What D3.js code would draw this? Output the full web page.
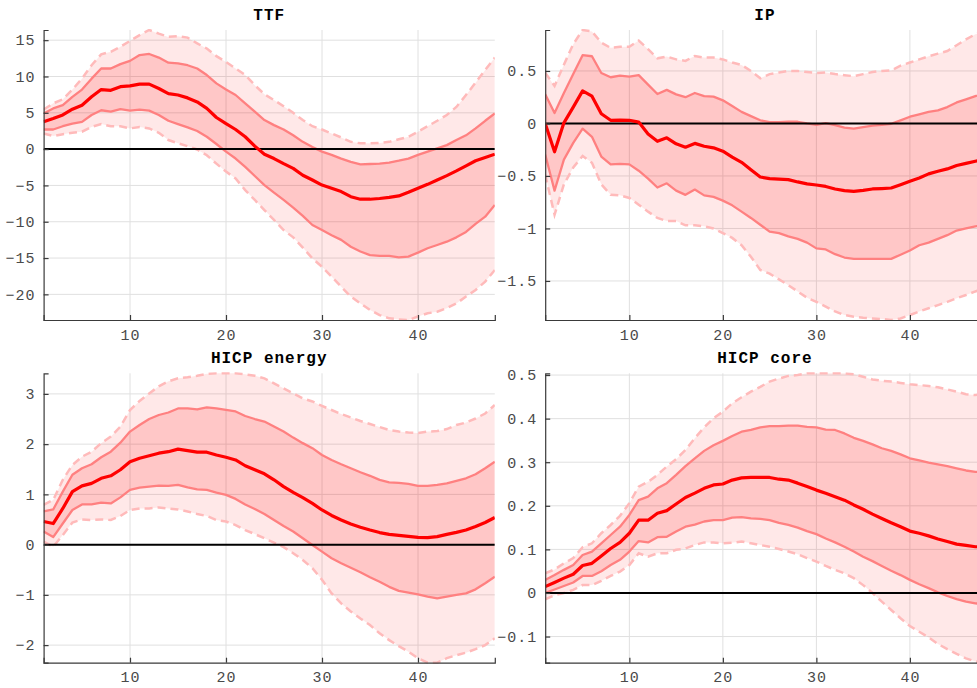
<!DOCTYPE html>
<html>
<head>
<meta charset="utf-8">
<script src="https://cdn.jsdelivr.net/npm/d3@7"></script>
<style>
  html, body { margin: 0; padding: 0; background: #fff; overflow: hidden; }
  svg { display: block; }
</style>
</head>
<body>
<svg id="chart" width="977" height="688"></svg>
<script>
// Impulse responses over a 48-month horizon: median with 68% and 90% bands.
const horizon = [1,2,3,4,5,6,7,8,9,10,11,12,13,14,15,16,17,18,19,20,21,22,23,24,
                 25,26,27,28,29,30,31,32,33,34,35,36,37,38,39,40,41,42,43,44,45,46,47,48];
const xTicks = [10, 20, 30, 40];

// --- TTF ---
const ttfMean = [3.76,4.2,4.7,5.5,6.05,7.2,8.2,8.1,8.6,8.7,8.95,8.95,8.35,7.65,7.45,7.05,6.5,5.6,4.35,3.5,2.7,1.7,0.4,-0.7,
  -1.3,-2.0,-2.65,-3.6,-4.25,-4.95,-5.4,-5.85,-6.55,-6.9,-6.9,-6.8,-6.65,-6.45,-5.95,-5.4,-4.85,-4.25,-3.65,-3.0,-2.3,-1.6,-1.15,-0.7];
const ttfInnerHi = [4.9,5.6,6.05,7.2,8.2,9.7,11.1,11.1,11.7,12.15,12.95,13.1,12.6,11.9,11.8,11.55,11.1,10.2,9.05,8.2,7.45,6.3,5.15,4.0,
  3.3,2.7,1.9,1.0,0.3,-0.35,-0.8,-1.3,-1.75,-2.1,-2.05,-2.0,-1.85,-1.6,-1.3,-0.8,-0.35,0.1,0.55,1.25,1.9,2.85,3.9,4.9];
const ttfInnerLo = [2.7,2.7,3.15,3.5,3.75,4.7,5.35,5.15,5.5,5.3,5.45,5.3,4.7,3.9,3.45,3.0,2.5,1.7,0.7,-0.35,-1.3,-2.45,-3.7,-4.95,
  -6.0,-7.0,-8.05,-9.2,-10.45,-11.15,-11.85,-12.5,-13.45,-14.1,-14.6,-14.7,-14.7,-14.9,-14.8,-14.25,-13.65,-13.2,-12.75,-12.15,-11.4,-10.3,-9.3,-7.7];
const ttfOuterHi = [5.45,6.3,6.85,8.2,9.7,11.55,13.05,13.4,14.1,14.9,15.7,16.4,15.9,15.45,15.55,15.35,14.55,13.85,12.8,12.0,11.1,10.2,8.8,7.55,
  6.75,5.9,5.0,4.0,3.15,2.7,2.15,1.6,1.0,0.8,0.8,0.85,1.0,1.35,1.7,2.4,3.15,3.9,4.7,5.8,7.45,9.15,10.9,12.6];
const ttfOuterLo = [2.15,1.8,2.05,2.25,2.4,3.05,3.45,3.15,3.15,2.85,3.05,2.85,2.25,1.25,0.8,0.4,-0.05,-0.85,-2.0,-3.1,-4.05,-5.65,-7.0,-8.4,
  -9.75,-11.15,-12.15,-13.55,-15.05,-16.2,-17.55,-18.95,-20.3,-21.25,-22.15,-22.85,-23.3,-23.45,-23.53,-23.05,-22.6,-22.4,-21.9,-21.25,-20.3,-19.4,-18.25,-16.65];
const ttfTicks = [-20, -15, -10, -5, 0, 5, 10, 15];

// --- IP ---
const ipMean = [0,-0.27,0.006,0.156,0.31,0.26,0.092,0.03,0.032,0.03,0.013,-0.1,-0.17,-0.137,-0.194,-0.226,-0.19,-0.217,-0.232,-0.264,-0.32,-0.37,-0.44,-0.51,
  -0.525,-0.53,-0.535,-0.557,-0.576,-0.586,-0.6,-0.624,-0.64,-0.647,-0.637,-0.624,-0.62,-0.615,-0.583,-0.55,-0.52,-0.48,-0.455,-0.433,-0.4,-0.38,-0.36,-0.34];
const ipInnerHi = [0.277,0.1,0.29,0.47,0.65,0.64,0.48,0.44,0.455,0.445,0.46,0.37,0.28,0.32,0.277,0.25,0.29,0.26,0.255,0.22,0.166,0.11,0.07,0.03,
  0.013,0.013,0.016,0.016,0,-0.013,0.003,-0.016,-0.04,-0.05,-0.035,-0.02,-0.013,-0.003,0.03,0.064,0.086,0.11,0.124,0.156,0.2,0.23,0.26,0.29];
const ipInnerLo = [-0.296,-0.64,-0.344,-0.185,-0.05,-0.127,-0.315,-0.39,-0.385,-0.39,-0.45,-0.525,-0.61,-0.57,-0.64,-0.68,-0.63,-0.685,-0.7,-0.735,-0.78,-0.84,-0.9,-0.965,
  -1.03,-1.045,-1.075,-1.1,-1.135,-1.19,-1.2,-1.245,-1.277,-1.29,-1.29,-1.29,-1.29,-1.29,-1.25,-1.21,-1.16,-1.135,-1.1,-1.064,-1.02,-1.0,-0.98,-0.965];
const ipOuterHi = [0.484,0.357,0.56,0.755,0.89,0.876,0.77,0.72,0.73,0.73,0.79,0.707,0.62,0.637,0.61,0.596,0.643,0.627,0.627,0.61,0.58,0.557,0.5,0.43,
  0.47,0.485,0.5,0.5,0.49,0.48,0.485,0.47,0.46,0.45,0.47,0.49,0.5,0.505,0.55,0.58,0.61,0.64,0.665,0.69,0.745,0.8,0.85,0.88];
const ipOuterLo = [-0.487,-0.87,-0.58,-0.42,-0.31,-0.375,-0.58,-0.68,-0.685,-0.71,-0.774,-0.84,-0.9,-0.93,-0.93,-0.97,-0.97,-0.98,-1.0,-1.045,-1.09,-1.16,-1.27,-1.395,
  -1.43,-1.485,-1.54,-1.6,-1.66,-1.7,-1.745,-1.79,-1.825,-1.84,-1.85,-1.857,-1.863,-1.872,-1.857,-1.825,-1.79,-1.76,-1.73,-1.7,-1.665,-1.634,-1.6,-1.57];
const ipTicks = [-1.5, -1, -0.5, 0, 0.5];

// --- HICP energy ---
const energyMean = [0.46,0.42,0.72,1.055,1.17,1.22,1.32,1.37,1.49,1.65,1.72,1.77,1.82,1.85,1.9,1.87,1.84,1.84,1.785,1.74,1.685,1.57,1.49,1.41,
  1.29,1.155,1.04,0.935,0.82,0.69,0.58,0.49,0.41,0.345,0.29,0.24,0.205,0.185,0.165,0.145,0.14,0.16,0.205,0.245,0.29,0.36,0.44,0.54];
const energyInnerHi = [0.66,0.7,1.055,1.39,1.52,1.6,1.74,1.85,2.03,2.25,2.38,2.5,2.58,2.63,2.71,2.71,2.69,2.73,2.71,2.68,2.65,2.56,2.5,2.45,
  2.35,2.25,2.13,2.02,1.92,1.785,1.685,1.6,1.52,1.44,1.37,1.29,1.24,1.23,1.21,1.17,1.17,1.19,1.22,1.27,1.32,1.4,1.52,1.65];
const energyInnerLo = [0.26,0.15,0.42,0.69,0.8,0.8,0.835,0.82,0.94,1.09,1.135,1.155,1.175,1.17,1.19,1.14,1.1,1.09,1.035,0.99,0.91,0.8,0.71,0.61,
  0.49,0.37,0.26,0.126,-0.007,-0.14,-0.27,-0.37,-0.46,-0.55,-0.65,-0.74,-0.84,-0.92,-0.955,-0.99,-1.035,-1.07,-1.035,-1.0,-0.97,-0.89,-0.77,-0.64];
const energyOuterHi = [0.79,0.89,1.29,1.585,1.75,1.85,2.02,2.15,2.35,2.68,2.86,3.01,3.15,3.25,3.31,3.33,3.36,3.4,3.41,3.41,3.41,3.39,3.36,3.31,
  3.21,3.11,3.01,2.91,2.85,2.76,2.68,2.6,2.53,2.46,2.4,2.34,2.28,2.25,2.23,2.22,2.25,2.26,2.3,2.38,2.43,2.51,2.61,2.78];
const energyOuterLo = [0.06,-0.04,0.19,0.44,0.5,0.49,0.5,0.49,0.57,0.69,0.72,0.72,0.74,0.72,0.7,0.66,0.61,0.57,0.49,0.46,0.39,0.29,0.21,0.126,
  0.04,-0.05,-0.17,-0.305,-0.47,-0.7,-0.97,-1.17,-1.33,-1.47,-1.6,-1.765,-1.9,-2.02,-2.13,-2.26,-2.35,-2.35,-2.26,-2.2,-2.15,-2.08,-2.0,-1.865];
const energyTicks = [-2, -1, 0, 1, 2, 3];

// --- HICP core ---
const coreMean = [0.0145,0.024,0.034,0.043,0.063,0.068,0.085,0.102,0.116,0.137,0.167,0.167,0.183,0.189,0.204,0.219,0.229,0.24,0.248,0.25,0.259,0.264,0.265,0.265,
  0.265,0.261,0.259,0.252,0.244,0.236,0.229,0.221,0.213,0.202,0.192,0.181,0.171,0.161,0.152,0.142,0.137,0.131,0.124,0.118,0.112,0.109,0.106,0.106];
const coreInnerHi = [0.03,0.041,0.053,0.064,0.087,0.095,0.114,0.133,0.152,0.179,0.213,0.221,0.24,0.252,0.271,0.291,0.309,0.326,0.339,0.349,0.36,0.37,0.374,0.38,
  0.383,0.383,0.384,0.384,0.381,0.38,0.375,0.374,0.366,0.356,0.349,0.341,0.332,0.326,0.318,0.309,0.304,0.299,0.295,0.291,0.286,0.281,0.278,0.277];
const coreInnerLo = [0.0,0.008,0.016,0.024,0.039,0.039,0.05,0.064,0.076,0.095,0.119,0.116,0.128,0.129,0.141,0.152,0.157,0.164,0.167,0.167,0.173,0.174,0.171,0.17,
  0.167,0.161,0.156,0.15,0.142,0.135,0.125,0.116,0.106,0.095,0.083,0.073,0.062,0.051,0.041,0.03,0.02,0.011,0.0015,-0.007,-0.014,-0.02,-0.024,-0.025];
const coreOuterHi = [0.045,0.054,0.068,0.08,0.105,0.114,0.137,0.156,0.177,0.206,0.244,0.255,0.271,0.29,0.307,0.328,0.355,0.38,0.401,0.416,0.435,0.449,0.462,0.473,
  0.485,0.492,0.498,0.5,0.504,0.504,0.504,0.504,0.504,0.502,0.496,0.49,0.487,0.485,0.482,0.479,0.477,0.475,0.472,0.467,0.462,0.456,0.454,0.458];
const coreOuterLo = [-0.0145,-0.005,0.0,0.007,0.018,0.018,0.028,0.039,0.049,0.064,0.091,0.083,0.091,0.091,0.099,0.102,0.11,0.116,0.116,0.114,0.115,0.118,0.114,0.11,
  0.106,0.101,0.095,0.089,0.08,0.072,0.062,0.053,0.045,0.034,0.018,0.0,-0.02,-0.039,-0.058,-0.076,-0.089,-0.102,-0.117,-0.129,-0.14,-0.15,-0.157,-0.16];
const coreTicks = [-0.1, 0, 0.1, 0.2, 0.3, 0.4, 0.5];

const panels = [
  { title: "TTF",         mean: ttfMean,    innerHi: ttfInnerHi,    innerLo: ttfInnerLo,    outerHi: ttfOuterHi,    outerLo: ttfOuterLo,    ticks: ttfTicks,    box: [43.6, 494.8, 30, 320] },
  { title: "IP",          mean: ipMean,     innerHi: ipInnerHi,     innerLo: ipInnerLo,     outerHi: ipOuterHi,     outerLo: ipOuterLo,     ticks: ipTicks,     box: [545.2, 984.7, 30, 320] },
  { title: "HICP energy", mean: energyMean, innerHi: energyInnerHi, innerLo: energyInnerLo, outerHi: energyOuterHi, outerLo: energyOuterLo, ticks: energyTicks, box: [43.6, 494.8, 373.3, 662.7] },
  { title: "HICP core",   mean: coreMean,   innerHi: coreInnerHi,   innerLo: coreInnerLo,   outerHi: coreOuterHi,   outerLo: coreOuterLo,   ticks: coreTicks,   box: [545.2, 984.7, 373.3, 662.7] }
];

const svg = d3.select("#chart");
const FONT = "'Liberation Mono', 'DejaVu Sans Mono', monospace";
const fmt = d3.format("~g");

panels.forEach((p, i) => {
  const [x0, x1, y0, y1] = p.box;
  const x = d3.scaleLinear().domain([1, 48]).range([x0, x1]);
  const ext = d3.extent(p.outerLo.concat(p.outerHi));
  const y = d3.scaleLinear().domain(ext).range([y1, y0]);

  const g = svg.append("g");
  const clipId = "clip" + i;
  g.append("clipPath").attr("id", clipId)
    .append("rect").attr("x", x0).attr("y", y0 - 1).attr("width", x1 - x0).attr("height", y1 - y0 + 2);

  // grid
  const grid = g.append("g").attr("stroke", "#e0e0e0").attr("stroke-width", 1);
  grid.selectAll("line.gx").data(xTicks).join("line")
    .attr("x1", d => x(d)).attr("x2", d => x(d)).attr("y1", y0).attr("y2", y1);
  grid.selectAll("line.gy").data(p.ticks).join("line")
    .attr("x1", x0).attr("x2", x1).attr("y1", d => y(d)).attr("y2", d => y(d));

  const plot = g.append("g").attr("clip-path", `url(#${clipId})`);

  const band = (lo, hi) => d3.area()
    .x((d, k) => x(horizon[k]))
    .y0((d, k) => y(lo[k]))
    .y1((d, k) => y(hi[k]))(horizon);
  const line = arr => d3.line().x((d, k) => x(horizon[k])).y(d => y(d))(arr);

  plot.append("path").attr("d", band(p.outerLo, p.outerHi))
    .attr("fill", "#ff0000").attr("fill-opacity", 0.09);
  plot.append("path").attr("d", band(p.innerLo, p.innerHi))
    .attr("fill", "#ff0000").attr("fill-opacity", 0.14);

  [p.outerHi, p.outerLo].forEach(a => plot.append("path").attr("d", line(a))
    .attr("fill", "none").attr("stroke", "#ffbaba").attr("stroke-width", 2.5)
    .attr("stroke-dasharray", "8,5"));
  [p.innerHi, p.innerLo].forEach(a => plot.append("path").attr("d", line(a))
    .attr("fill", "none").attr("stroke", "#ff8080").attr("stroke-width", 2.3)
    .attr("stroke-linejoin", "round"));

  // zero line
  plot.append("line").attr("x1", x0).attr("x2", x1).attr("y1", y(0)).attr("y2", y(0))
    .attr("stroke", "#000").attr("stroke-width", 2);

  plot.append("path").attr("d", line(p.mean))
    .attr("fill", "none").attr("stroke", "#ff0000").attr("stroke-width", 3.2)
    .attr("stroke-linejoin", "round");

  // axes (left and bottom, ticks pointing inward)
  const yAxis = d3.axisLeft(y).tickValues(p.ticks).tickSize(-5).tickPadding(8).tickFormat(fmt);
  const xAxis = d3.axisBottom(x).tickValues(xTicks).tickSize(-5).tickPadding(9).tickFormat(fmt);
  const ay = g.append("g").attr("transform", `translate(${x0},0)`).call(yAxis);
  const ax = g.append("g").attr("transform", `translate(0,${y1})`).call(xAxis);
  [ax, ay].forEach(a => {
    a.select(".domain").attr("stroke", "#3a3a3a").attr("stroke-width", 1.2);
    a.selectAll(".tick line").attr("stroke", "#3a3a3a").attr("stroke-width", 1.2);
    a.selectAll(".tick text").attr("fill", "#4a4a4a")
      .style("font-family", FONT).style("font-size", "15px").style("letter-spacing", "1px");
  });

  g.append("text").text(p.title)
    .attr("x", (x0 + x1) / 2).attr("y", y0 - 10)
    .attr("text-anchor", "middle")
    .style("font-family", FONT).style("font-weight", "bold").style("font-size", "16px")
    .style("letter-spacing", "1px").attr("fill", "#000");
});
</script>
</body>
</html>
